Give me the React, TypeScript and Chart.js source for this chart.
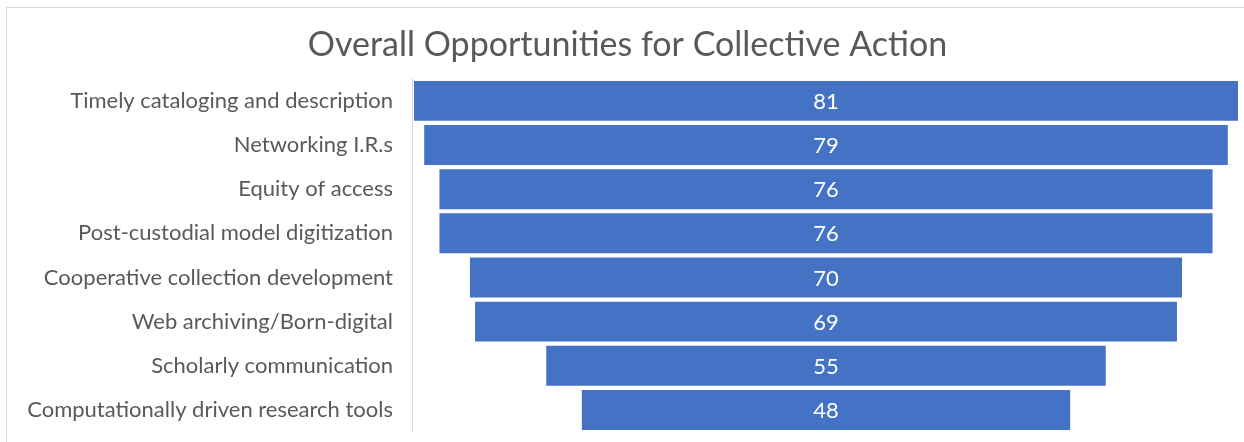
import React, { useEffect, useRef } from "react";
import { Chart, registerables } from "chart.js";

Chart.register(...registerables);

const TITLE = "Overall Opportunities for Collective Action";
const categories = [
  "Timely cataloging and description",
  "Networking I.R.s",
  "Equity of access",
  "Post-custodial model digitization",
  "Cooperative collection development",
  "Web archiving/Born-digital",
  "Scholarly communication",
  "Computationally driven research tools",
];
const values = [81, 79, 76, 76, 70, 69, 55, 48];

const BAR_COLOR = "#4472C4";
const TEXT_COLOR = "#595959";
const FONT = "Lato, 'Open Sans', sans-serif";

const valueLabels = {
  id: "valueLabels",
  afterDatasetsDraw(chart: any) {
    const ctx = chart.ctx;
    const meta = chart.getDatasetMeta(0);
    ctx.save();
    ctx.fillStyle = "#ffffff";
    ctx.font = `22px ${FONT}`;
    ctx.textAlign = "center";
    ctx.textBaseline = "middle";
    meta.data.forEach((el: any, i: number) => {
      const p = el.getCenterPoint();
      ctx.fillText(String(values[i]), p.x, p.y + 1);
    });
    ctx.restore();
  },
};

export default function App() {
  const ref = useRef<HTMLCanvasElement>(null);
  useEffect(() => {
    if (!ref.current) return;
    const half = Math.max(...values) / 2;
    const chart = new Chart(ref.current, {
      type: "bar",
      data: {
        labels: categories,
        datasets: [
          {
            data: values.map((v) => [-v / 2, v / 2]) as any,
            backgroundColor: BAR_COLOR,
            borderWidth: 0,
            barPercentage: 0.905,
            categoryPercentage: 1,
          },
        ],
      },
      options: {
        indexAxis: "y",
        animation: false,
        responsive: false,
        maintainAspectRatio: false,
        layout: { padding: { left: 16, right: 5, top: 0, bottom: 10 } },
        plugins: {
          legend: { display: false },
          tooltip: { enabled: false },
          title: {
            display: true,
            text: TITLE,
            color: TEXT_COLOR,
            font: { family: FONT, size: 34, weight: "normal" as any },
            padding: { top: 25, bottom: 13 },
          },
        },
        scales: {
          x: {
            display: false,
            min: -half - 0.2,
            max: half + 0.1,
          },
          y: {
            grid: {
              display: true,
              drawOnChartArea: false,
              drawTicks: true,
              tickLength: 19,
              tickColor: "rgba(0,0,0,0)",
            },
            border: { display: true, color: "#d9d9d9", width: 1 },
            ticks: {
              color: TEXT_COLOR,
              font: { family: FONT, size: 22, lineHeight: 0.8 },
              padding: 0,
              autoSkip: false,
            },
            afterFit(scale: any) {
              scale.width = 396;
            },
          },
        },
      },
      plugins: [valueLabels],
    });
    return () => chart.destroy();
  }, []);

  return (
    <div style={{ position: "fixed", left: 0, top: 0, width: 1244, height: 442, background: "#fff" }}>
      <div
        style={{
          position: "absolute",
          left: 6,
          top: 7,
          width: 1238,
          height: 435,
          borderTop: "1px solid #d9d9d9",
          borderLeft: "1px solid #d9d9d9",
          boxSizing: "border-box",
        }}
      />
      <canvas ref={ref} width={1244} height={442} style={{ position: "absolute", left: 0, top: 0, width: 1244, height: 442 }} />
    </div>
  );
}
